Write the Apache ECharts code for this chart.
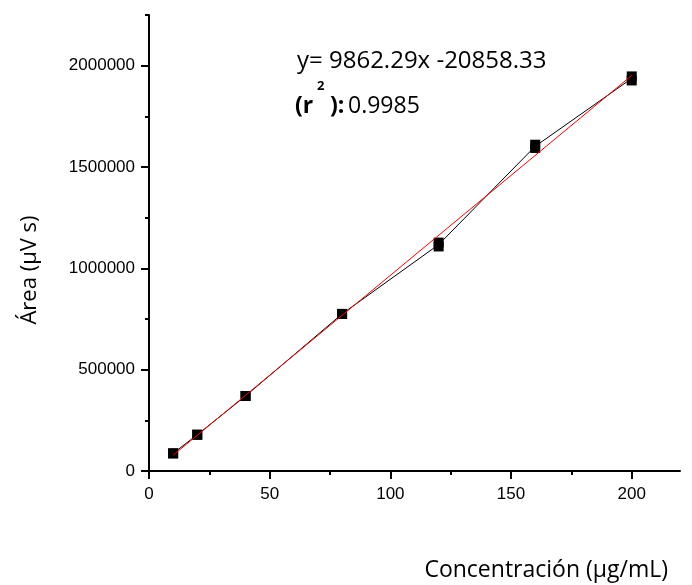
<!DOCTYPE html>
<html>
<head>
<meta charset="utf-8">
<script src="https://cdn.jsdelivr.net/npm/echarts@6/dist/echarts.min.js"></script>
<style>
  html, body { margin: 0; padding: 0; background: #ffffff; }
  #chart { width: 692px; height: 585px; }
</style>
</head>
<body>
<div id="chart"></div>
<script>
// Calibration data: concentration (µg/mL) vs. peak area (µV s)
const concentrations = [10, 20, 40, 80, 120, 160, 200];
const replicateA = [87000, 179000, 370000, 775000, 1127000, 1610000, 1947000];
const replicateB = [87000, 179000, 370000, 775000, 1108000, 1594000, 1927000];
const meanArea = [87000, 179000, 370000, 775000, 1117000, 1602000, 1937000];

// Linear fit reported on the chart
const slope = 9862.29;
const intercept = -20858.33;
const rSquared = 0.9985;
const fitRange = [10, 200];

// Axis ticks
const xMajorTicks = [0, 50, 100, 150, 200];
const xMinorTicks = [25, 75, 125, 175];
const yMajorTicks = [0, 500000, 1000000, 1500000, 2000000];
const yMinorTicks = [250000, 750000, 1250000, 1750000, 2250000];

const pairs = (xs, ys) => xs.map((x, i) => [x, ys[i]]);
const fitLine = fitRange.map(x => [x, slope * x + intercept]);

const FONT_AXIS = 'Liberation Sans';

const chart = echarts.init(document.getElementById('chart'), null, { renderer: 'canvas' });

const axisCommon = {
  type: 'value',
  splitLine: { show: false },
  axisLine: { show: true, onZero: false, lineStyle: { color: '#000', width: 2 } }
};

chart.setOption({
  backgroundColor: '#ffffff',
  animation: false,
  grid: { left: 149, right: 12, top: 15, bottom: 114, containLabel: false, outerBoundsMode: 'none' },
  xAxis: [
    Object.assign({}, axisCommon, {
      min: 0, max: 220,
      axisTick: { show: true, inside: false, length: 8, lineStyle: { color: '#000', width: 2 }, customValues: xMajorTicks },
      axisLabel: { show: true, margin: 15, color: '#000', fontFamily: FONT_AXIS, fontSize: 17,
        customValues: xMajorTicks, formatter: v => String(v) }
    }),
    Object.assign({}, axisCommon, {
      min: 0, max: 220, position: 'bottom',
      axisLine: { show: false },
      axisTick: { show: true, length: 4, lineStyle: { color: '#000', width: 2 }, customValues: xMinorTicks },
      axisLabel: { show: false }
    })
  ],
  yAxis: [
    Object.assign({}, axisCommon, {
      min: 0, max: 2250000,
      axisTick: { show: true, inside: false, length: 8, lineStyle: { color: '#000', width: 2 }, customValues: yMajorTicks },
      axisLabel: { show: true, margin: 14, color: '#000', fontFamily: FONT_AXIS, fontSize: 17,
        customValues: yMajorTicks, formatter: v => String(v) }
    }),
    Object.assign({}, axisCommon, {
      min: 0, max: 2250000, position: 'left',
      axisLine: { show: false },
      axisTick: { show: true, length: 4, lineStyle: { color: '#000', width: 2 }, customValues: yMinorTicks },
      axisLabel: { show: false }
    })
  ],
  series: [
    {
      type: 'line', name: 'mean',
      data: pairs(concentrations, meanArea),
      showSymbol: false, symbol: 'none',
      lineStyle: { color: '#000', width: 1 },
      z: 2
    },
    {
      type: 'scatter', name: 'A',
      data: pairs(concentrations, replicateA),
      symbol: 'rect', symbolSize: 10,
      itemStyle: { color: '#000', opacity: 1 },
      z: 3
    },
    {
      type: 'scatter', name: 'B',
      data: pairs(concentrations, replicateB),
      symbol: 'rect', symbolSize: 10,
      itemStyle: { color: '#000', opacity: 1 },
      z: 3
    },
    {
      type: 'line', name: 'fit',
      data: fitLine,
      showSymbol: false, symbol: 'none',
      lineStyle: { color: '#ff0000', width: 1 },
      z: 4
    }
  ],
  graphic: [
    {
      type: 'text', left: 297, top: 49,
      style: { text: 'y= ' + slope + 'x ' + intercept.toFixed(2), font: '24px "Open Sans"', fill: '#000' }
    },
    {
      type: 'text', left: 295, top: 95,
      style: { text: '(r', font: 'bold 23px "Open Sans"', fill: '#000' }
    },
    {
      type: 'text', left: 317, top: 80,
      style: { text: '2', font: 'bold 13px "Open Sans"', fill: '#000' }
    },
    {
      type: 'text', left: 330, top: 95,
      style: { text: '):', font: 'bold 23px "Open Sans"', fill: '#000' }
    },
    {
      type: 'text', left: 348, top: 95,
      style: { text: String(rSquared), font: '23px "Open Sans"', fill: '#000' }
    },
    {
      type: 'text', x: 30, y: 270, rotation: Math.PI / 2,
      style: { text: 'Área (µV s)', font: '22px "Open Sans"', fill: '#000', align: 'center', verticalAlign: 'middle' }
    },
    {
      type: 'text', x: 668, y: 570,
      style: { text: 'Concentración (µg/mL)', font: '23px "Open Sans"', fill: '#000', align: 'right', verticalAlign: 'middle' }
    }
  ]
});
</script>
</body>
</html>
